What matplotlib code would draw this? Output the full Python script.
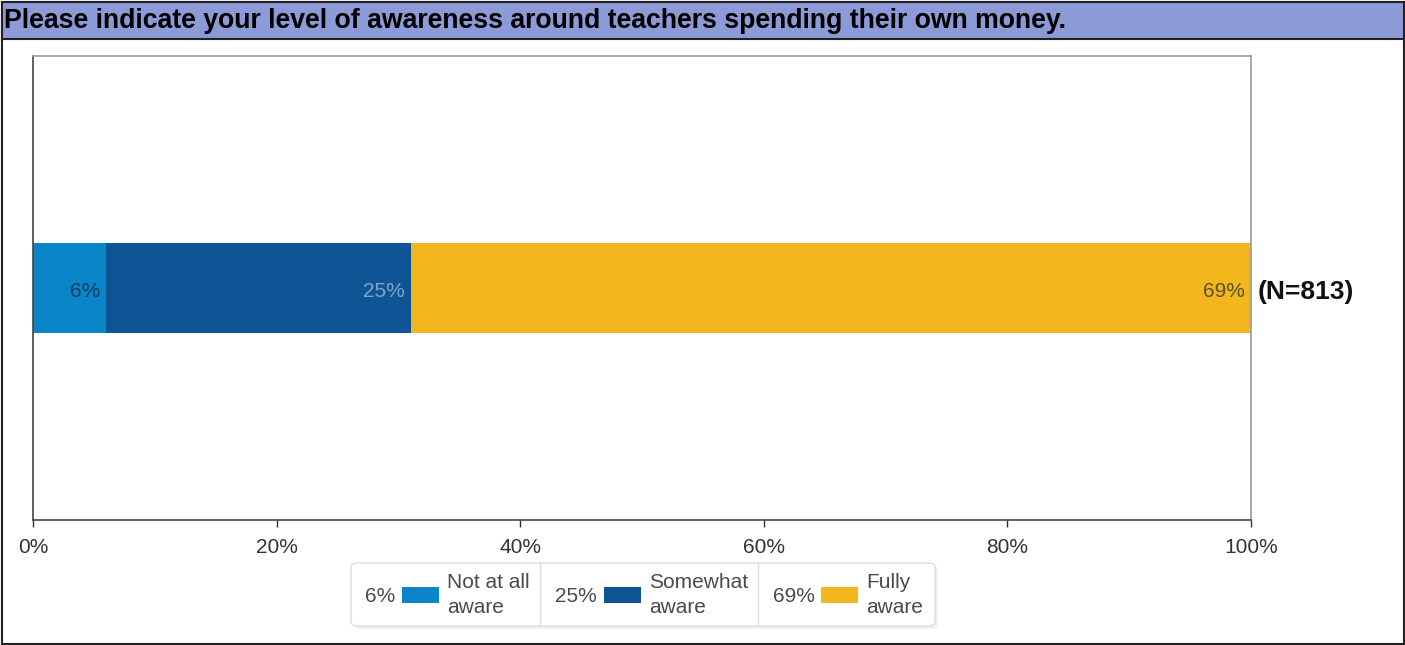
import matplotlib
matplotlib.use("Agg")
import matplotlib.pyplot as plt
from matplotlib.patches import Rectangle, FancyBboxPatch
from matplotlib.ticker import PercentFormatter

plt.rcParams['font.family'] = ['Liberation Sans', 'DejaVu Sans']

title = "Please indicate your level of awareness around teachers spending their own money."
categories = ["Not at all\naware", "Somewhat\naware", "Fully\naware"]
values = [6, 25, 69]
colors = ["#0A86C8", "#0F5596", "#F2B71D"]
label_colors = ["#0B3F63", "#7FA3CF", "#5E5020"]
n_label = "(N=813)"
xticks = [0, 20, 40, 60, 80, 100]

W, H = 1405, 645
fig = plt.figure(figsize=(W / 100, H / 100), dpi=100)

def fx(px):
    return px / W

def fy(py):
    return 1 - py / H

# outer border
fig.patches.append(Rectangle((fx(1.5), fy(644)), fx(1402), fy(2) - fy(644), transform=fig.transFigure,
                             fill=False, edgecolor="#222222", lw=1.5))
# title bar
fig.patches.append(Rectangle((fx(1.5), fy(39)), fx(1402), fy(2) - fy(39), transform=fig.transFigure,
                             facecolor="#8C9AD8", edgecolor="#222222", lw=1.5))
fig.text(fx(4), fy(21), title, fontsize=19.2, fontweight="bold", color="black",
         ha="left", va="center")

ax = fig.add_axes([fx(33), fy(520), fx(1251) - fx(33), fy(56) - fy(520)])
left = 0
for v, c, lc in zip(values, colors, label_colors):
    ax.barh(0, v, left=left, height=0.196, color=c, edgecolor="none")
    ax.text(left + v - 0.5, -0.008, f"{v}%", ha="right", va="center", fontsize=15, color=lc)
    left += v
ax.text(100.55, -0.008, n_label, ha="left", va="center", fontsize=19, fontweight="bold", color="#111111")

ax.set_xlim(0, 100)
ax.set_ylim(-0.5, 0.5)
ax.set_yticks([])
ax.set_xticks(xticks)
ax.xaxis.set_major_formatter(PercentFormatter(decimals=0))
ax.tick_params(axis="x", labelsize=15, colors="#333333", length=5, width=1, pad=8)
for s in ["top", "right"]:
    ax.spines[s].set_color("#999999")
for s in ["left", "bottom"]:
    ax.spines[s].set_color("#444444")
for s in ax.spines.values():
    s.set_linewidth(1.2)

# legend box
lx0, lx1, ly0, ly1 = 351, 935, 563, 626
fig.patches.append(FancyBboxPatch((fx(lx0 + 3), fy(ly1 + 3)), fx(lx1 - lx0), fy(ly0) - fy(ly1),
                                  boxstyle="round,pad=0,rounding_size=0.006", transform=fig.transFigure,
                                  facecolor="#E6E6E6", edgecolor="none", alpha=0.6))
fig.patches.append(FancyBboxPatch((fx(lx0), fy(ly1)), fx(lx1 - lx0), fy(ly0) - fy(ly1),
                                  boxstyle="round,pad=0,rounding_size=0.006", transform=fig.transFigure,
                                  facecolor="white", edgecolor="#DDDDDD", lw=1))
for sx in [540, 758]:
    fig.add_artist(plt.Line2D([fx(sx), fx(sx)], [fy(ly1), fy(ly0)], transform=fig.transFigure,
                              color="#DDDDDD", lw=1))
val_right = [395, 597, 815]
sw_left = [402, 604, 821]
for v, c, cat, vr, sl in zip(values, colors, categories, val_right, sw_left):
    fig.text(fx(vr), fy(597), f"{v}%", ha="right", va="center", fontsize=15, color="#4A4A4A")
    fig.patches.append(Rectangle((fx(sl), fy(603)), fx(37), fy(587) - fy(603), transform=fig.transFigure,
                                 facecolor=c, edgecolor="none"))
    fig.text(fx(sl + 45), fy(595), cat, ha="left", va="center", fontsize=15, color="#4A4A4A",
             linespacing=1.4)

fig.savefig("out.png", dpi=100)
